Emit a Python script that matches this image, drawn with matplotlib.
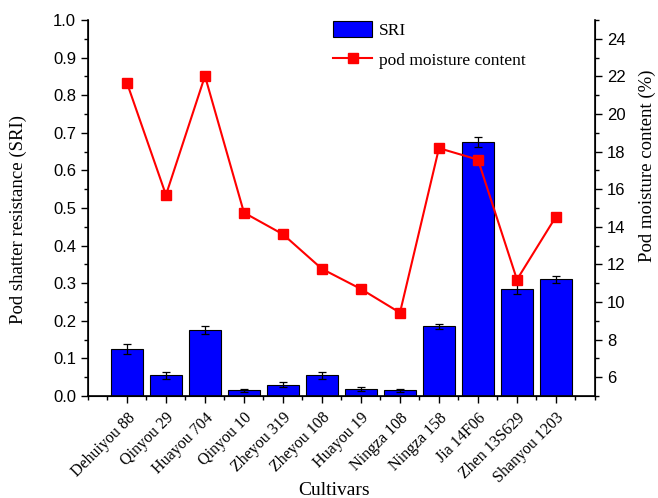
import matplotlib
matplotlib.use("Agg")
import matplotlib.pyplot as plt
from matplotlib.ticker import MultipleLocator
import numpy as np

cultivars = ["Dehuiyou 88", "Qinyou 29", "Huayou 704", "Qinyou 10", "Zheyou 319",
             "Zheyou 108", "Huayou 19", "Ningza 108", "Ningza 158", "Jia 14F06",
             "Zhen 13S629", "Shanyou 1203"]
sri = [0.125, 0.055, 0.175, 0.015, 0.030, 0.055, 0.018, 0.015, 0.185, 0.675, 0.285, 0.310]
sri_err = [0.014, 0.010, 0.010, 0.004, 0.007, 0.010, 0.005, 0.004, 0.007, 0.014, 0.014, 0.010]
moisture = [21.65, 15.69, 22.02, 14.75, 13.6, 11.76, 10.69, 9.43, 18.18, 17.57, 11.19, 14.54]
sri_ticks = [0.0, 0.1, 0.2, 0.3, 0.4, 0.5, 0.6, 0.7, 0.8, 0.9, 1.0]
moist_ticks = [6, 8, 10, 12, 14, 16, 18, 20, 22, 24]

serif = "Liberation Serif"
sans = "Liberation Sans"

fig = plt.figure(figsize=(6.58, 4.98), dpi=100)
ax = fig.add_axes([0.1337, 0.2048, 0.7705, 0.7552])
x = np.arange(1, len(cultivars) + 1)

ax.bar(x, sri, width=0.8, color="#0000ff", edgecolor="black", linewidth=0.8,
       yerr=sri_err, capsize=3, error_kw=dict(ecolor="black", elinewidth=0.9, capthick=0.9),
       label="SRI", zorder=2)
ax.set_xlim(0, 13)
ax.set_ylim(0, 1.0)
ax.set_yticks(sri_ticks)
ax.set_yticklabels([f"{v:.1f}" for v in sri_ticks], fontfamily=sans)
ax.yaxis.set_minor_locator(MultipleLocator(0.05))
ax.set_xticks(x)
ax.xaxis.set_minor_locator(MultipleLocator(0.5))
ax.set_xticklabels(cultivars, rotation=45, ha="right", rotation_mode="anchor",
                   fontfamily=serif, fontsize=11.5)
ax.tick_params(axis="y", labelsize=12, direction="out", length=5, width=1)
ax.tick_params(axis="y", which="minor", direction="out", length=3, width=1)
ax.tick_params(axis="x", direction="out", length=5, width=1, pad=5)
ax.tick_params(axis="x", which="minor", direction="out", length=3, width=1)
ax.set_ylabel("Pod shatter resistance (SRI)", fontfamily=serif, fontsize=13.5, va="center")
ax.yaxis.set_label_coords(-0.138, 0.468)
ax.set_xlabel("Cultivars", fontfamily=serif, fontsize=14, va="center")
ax.xaxis.set_label_coords(0.486, -0.25)
ax.spines["top"].set_visible(False)
for s in ["left", "bottom"]:
    ax.spines[s].set_linewidth(1.2)

ax2 = ax.twinx()
ax2.plot(x, moisture, color="red", marker="s", markersize=6.5, linewidth=1.5,
         label="pod moisture content", zorder=3)
ax2.set_ylim(5, 25)
ax2.set_yticks(moist_ticks)
ax2.set_yticklabels([str(v) for v in moist_ticks], fontfamily=sans)
ax2.yaxis.set_minor_locator(MultipleLocator(1))
ax2.tick_params(axis="y", labelsize=12, direction="out", length=5, width=1)
ax2.tick_params(axis="y", which="minor", direction="out", length=3, width=1)
ax2.set_ylabel("Pod moisture content (%)", fontfamily=serif, fontsize=13.5, va="center")
ax2.yaxis.set_label_coords(1.1026, 0.612)
ax2.spines["top"].set_visible(False)
ax2.spines["right"].set_linewidth(1.2)

h1, l1 = ax.get_legend_handles_labels()
h2, l2 = ax2.get_legend_handles_labels()
ax2.legend(h1 + h2, l1 + l2, loc="upper left", bbox_to_anchor=(0.453, 1.04), frameon=False,
           prop={"family": serif, "size": 12.5}, handlelength=2.25, handleheight=1.1,
           labelspacing=0.7, handletextpad=0.4)

fig.savefig("out.png", dpi=100)
